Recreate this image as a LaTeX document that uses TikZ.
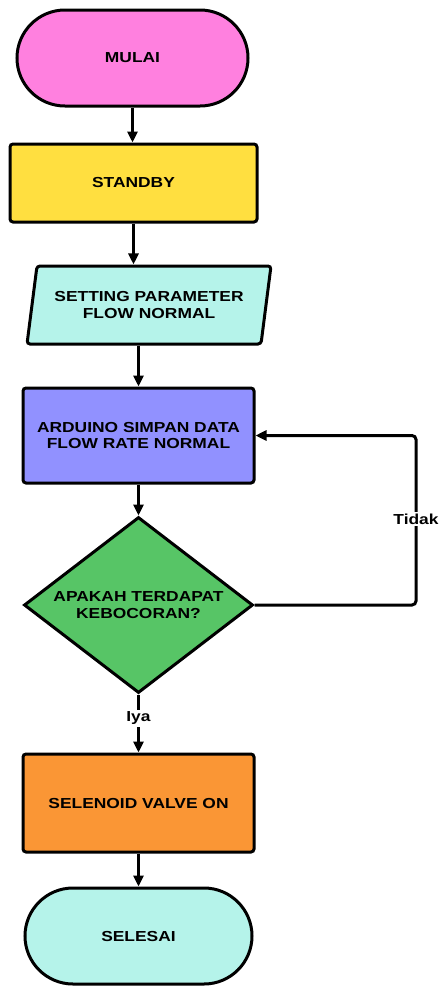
\documentclass[tikz,border=0pt]{standalone}
\usepackage{fontspec}
\newfontfamily\chartfont[FakeStretch=1.2]{Liberation Sans}
\usetikzlibrary{shapes.geometric, shapes.misc, arrows.meta}
\definecolor{pinkfill}{HTML}{FF80DF}
\definecolor{yellowfill}{HTML}{FFDF40}
\definecolor{cyanfill}{HTML}{B5F3EA}
\definecolor{bluefill}{HTML}{9191FF}
\definecolor{greenfill}{HTML}{57C566}
\definecolor{orangefill}{HTML}{FA9635}

\begin{document}
\begin{tikzpicture}[x=1pt, y=1pt,
		font=\chartfont\bfseries\fontsize{14.5}{16.5}\selectfont,
		base/.style = {draw=black, line width=3pt, align=center, inner sep=2pt},
		terminal/.style = {base, rounded rectangle, minimum width=#1, minimum height=96pt},
		process/.style = {base, rectangle, rounded corners=3pt},
		io/.style = {base, trapezium, trapezium left angle=72, trapezium right angle=108,
			trapezium stretches body, minimum width=244pt, minimum height=78pt, rounded corners=3pt},
		decision/.style = {base, diamond, aspect=1.3, minimum width=229pt, minimum height=176pt, inner sep=0pt},
		flow/.style = {line width=3pt, -{Triangle[length=11pt, width=10pt]}},
		answer/.style = {fill=white, inner sep=2pt}]
	\useasboundingbox (0,0) rectangle (440,-986);
	% nodes
	\node[terminal=235pt, fill=pinkfill] (mulai) at (132.5,-58) {MULAI};
	\node[process, fill=yellowfill, minimum width=247pt, minimum height=78pt] (standby) at (133.5,-183) {STANDBY};
	\node[io, fill=cyanfill] (setting) at (149,-305) {SETTING PARAMETER\\FLOW NORMAL};
	\node[process, fill=bluefill, minimum width=231pt, minimum height=95pt] (arduino) at (138.5,-435.5) {ARDUINO SIMPAN DATA\\FLOW RATE NORMAL};
	\node[decision, fill=greenfill] (cek) at (138.5,-605) {APAKAH TERDAPAT\\KEBOCORAN?};
	\node[process, fill=orangefill, minimum width=231pt, minimum height=98pt] (selenoid) at (138.5,-803) {SELENOID VALVE ON};
	\node[terminal=231pt, fill=cyanfill] (selesai) at (138.5,-936) {SELESAI};
	% connectors
	\draw[flow] (mulai.south) -- (mulai.south |- standby.north);
	\draw[flow] (standby.south) -- (standby.south |- setting.north);
	\draw[flow] (arduino.north |- setting.south) -- (arduino.north);
	\draw[flow] (arduino.south) -- (cek.north);
	\coordinate (loop) at (416,-605);
	\draw[flow, rounded corners=4pt] (cek.east) -- (loop) -- (loop |- arduino.east) -- (arduino.east);
	\node[answer] (tidak) at (416,-519) {Tidak};
	\draw[flow] (cek.south) -- (selenoid.north);
	\node[answer] (iya) at (138.5,-718) {Iya};
	\draw[flow] (selenoid.south) -- (selesai.north);
\end{tikzpicture}
\end{document}
